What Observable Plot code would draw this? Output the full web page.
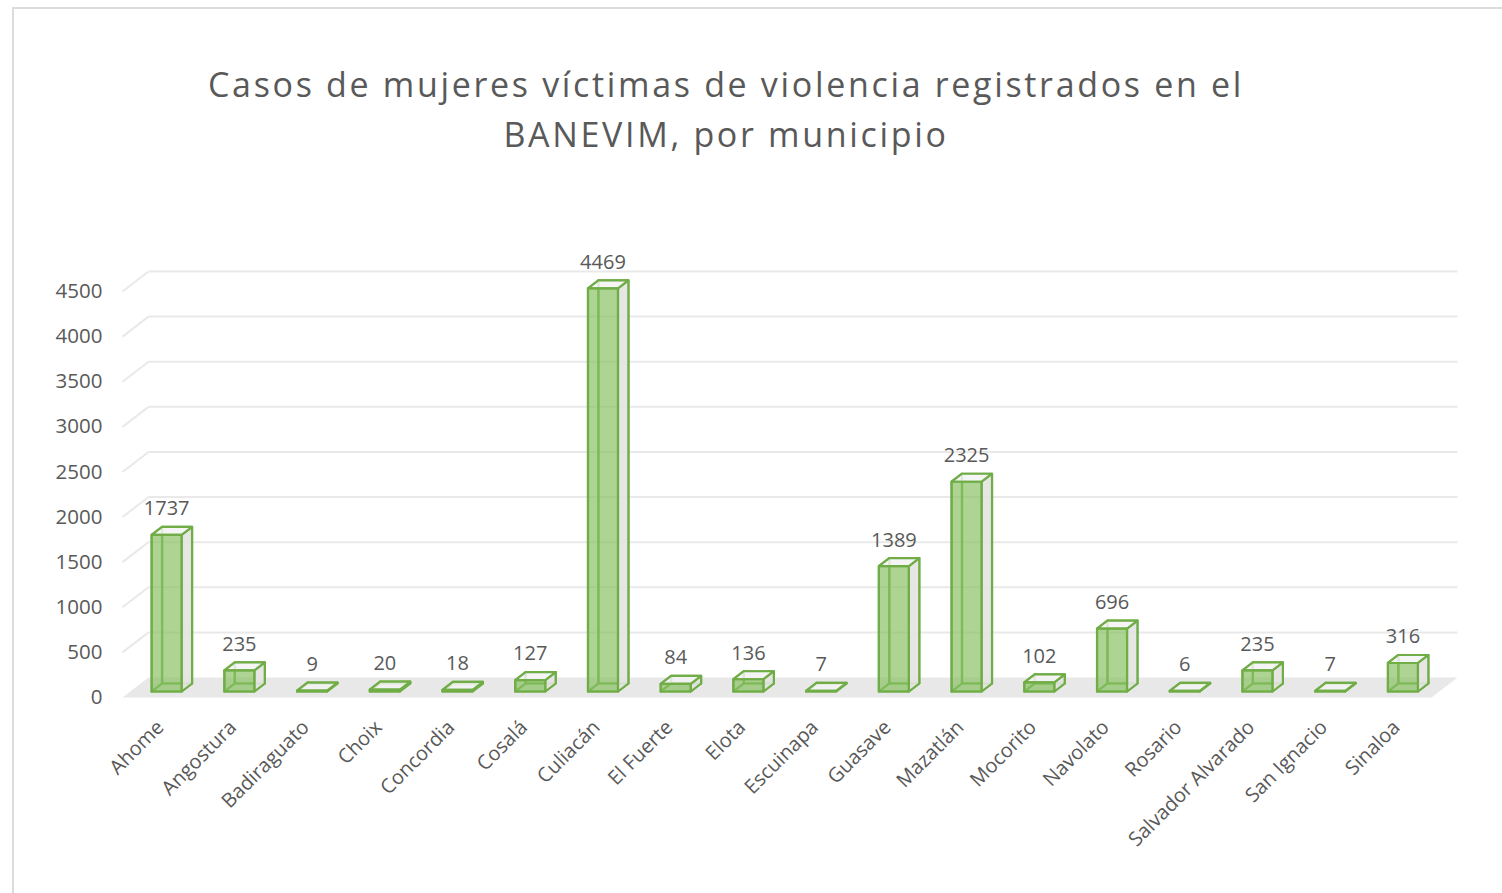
<!DOCTYPE html>
<html>
<head>
<meta charset="utf-8">
<script src="https://cdn.jsdelivr.net/npm/d3@7"></script>
<script src="https://cdn.jsdelivr.net/npm/@observablehq/plot@0.6"></script>
<style>
  html, body { margin: 0; padding: 0; background: #fff; overflow: hidden; }
  #wrap { position: relative; width: 1502px; height: 893px; overflow: hidden; }
  #frame { position: absolute; left: 12px; top: 7px; width: 1600px; height: 1000px; border: 2px solid #dcdcdc; box-sizing: border-box; }
  #chart { position: absolute; left: 0; top: 0; }
  #title { position: absolute; left: 0; top: 59px; width: 1452px; text-align: center; font-family: "Open Sans", sans-serif; font-size: 34px; line-height: 50px; color: #595959; white-space: nowrap; }
  #title span { display: inline-block; }
</style>
</head>
<body>
<div id="wrap">
  <div id="frame"></div>
  <div id="chart"></div>
  <div id="title"><span id="t1">Casos de mujeres víctimas de violencia registrados en el</span><br><span id="t2">BANEVIM, por municipio</span></div>
</div>
<script>
// ---- data ----
const municipios = ["Ahome","Angostura","Badiraguato","Choix","Concordia","Cosalá","Culiacán","El Fuerte","Elota","Escuinapa","Guasave","Mazatlán","Mocorito","Navolato","Rosario","Salvador Alvarado","San Ignacio","Sinaloa"];
const casos = [1737,235,9,20,18,127,4469,84,136,7,1389,2325,102,696,6,235,7,316];
const yTicks = [0,500,1000,1500,2000,2500,3000,3500,4000,4500];

// ---- geometry (pixels) ----
const W = 1502, H = 893;
const xRange = [122, 1431], yRange = [697, 291];
const xDomain = [-0.5, municipios.length - 0.5], yDomain = [0, 4500];
const kx = (xRange[1] - xRange[0]) / (xDomain[1] - xDomain[0]);
const ky = (yRange[0] - yRange[1]) / (yDomain[1] - yDomain[0]);
const SLOPE = 1.3;           // x shift per pixel of depth
const WALL_DEPTH = 20;
const BAR_D0 = 6, BAR_D1 = 14, BAR_HALF = 15;

// point at category position i, value v, lateral pixel shift s, depth d
function pt(i, v, s, d) {
  return {x: i + (s + SLOPE * d) / kx, y: v + d / ky};
}

const bars = municipios.map((m, i) => ({i, m, v: casos[i]}));

// faces of each 3D column
const faces = [];
for (const b of bars) {
  const {i, v} = b;
  const c = (s, vv, d) => pt(i, vv, s, d);
  const FLB = c(-BAR_HALF, 0, BAR_D0), FRB = c(BAR_HALF, 0, BAR_D0);
  const FLT = c(-BAR_HALF, v, BAR_D0), FRT = c(BAR_HALF, v, BAR_D0);
  const BLB = c(-BAR_HALF, 0, BAR_D1), BRB = c(BAR_HALF, 0, BAR_D1);
  const BLT = c(-BAR_HALF, v, BAR_D1), BRT = c(BAR_HALF, v, BAR_D1);
  const add = (face, pts) => pts.forEach(p => faces.push({face, id: face + i, x: p.x, y: p.y}));
  add("back", [BLB, BRB, BRT, BLT]);
  add("left", [FLB, BLB, BLT, FLT]);
  add("bottom", [FLB, FRB, BRB, BLB]);
  add("right", [FRB, BRB, BRT, FRT]);
  add("top", [FLT, FRT, BRT, BLT]);
  add("front", [FLB, FRB, FRT, FLT]);
}

// floor
const floor = [pt(xDomain[0], 0, 0, 0), pt(xDomain[0], 0, 0, WALL_DEPTH), pt(xDomain[1], 0, 0, WALL_DEPTH), pt(xDomain[1], 0, 0, 0)];

// gridlines on the back wall + diagonal on the side wall
const grid = yTicks.filter(t => t > 0).map(t => {
  const a = pt(xDomain[0], t, 0, WALL_DEPTH), b = pt(xDomain[1], t, 0, WALL_DEPTH);
  return {x1: a.x, y1: a.y, x2: b.x, y2: b.y};
});
const diag = yTicks.filter(t => t > 0).map(t => {
  const a = pt(xDomain[0], t, 0, 0), b = pt(xDomain[0], t, 0, WALL_DEPTH);
  return {x1: a.x, y1: a.y, x2: b.x, y2: b.y};
});

const GREEN = "#70ad47";
const faceMark = (face, opts) => Plot.line(faces.filter(d => d.face === face), {
  x: "x", y: "y", z: "id", curve: "linear-closed",
  stroke: GREEN, strokeWidth: 2.2, strokeLinejoin: "round", ...opts
});

const labelX = bars.map(b => ({...b, ...pt(b.i, b.v, 0, BAR_D0)}));

const chart = Plot.plot({
  width: W, height: H,
  margin: 0,
  style: {fontFamily: "'Open Sans', sans-serif", fontSize: "20px", background: "transparent"},
  x: {type: "linear", domain: xDomain, range: xRange, axis: null},
  y: {type: "linear", domain: yDomain, range: yRange, axis: null},
  marks: [
    Plot.line(floor, {x: "x", y: "y", curve: "linear-closed", fill: "#e8e8e8", stroke: "none"}),
    Plot.link(grid, {x1: "x1", y1: "y1", x2: "x2", y2: "y2", stroke: "#e9e9e9", strokeWidth: 2}),
    Plot.link(diag, {x1: "x1", y1: "y1", x2: "x2", y2: "y2", stroke: "#e9e9e9", strokeWidth: 2}),
    faceMark("back", {fill: "none"}),
    faceMark("left", {fill: "none"}),
    faceMark("bottom", {fill: "#dfe8d8", fillOpacity: 0.5}),
    faceMark("right", {fill: "#e3e4e1", fillOpacity: 0.9}),
    faceMark("top", {fill: "#f3f3f3", fillOpacity: 0.85}),
    faceMark("front", {fill: "#86bf60", fillOpacity: 0.68}),
    // value labels
    Plot.text(labelX, {x: "x", y: "y", text: d => String(d.v), dy: -26, fill: "#595959", fontSize: 20}),
    // y tick labels
    Plot.text(yTicks, {x: xDomain[0], y: d => d, text: d => String(d), textAnchor: "end", dx: -20, fill: "#595959", fontSize: 20.5}),
    // category labels
    Plot.text(bars, {x: "i", y: 0, text: "m", rotate: -45, textAnchor: "end", lineAnchor: "top", dx: -4, dy: 21, fill: "#595959", fontSize: 20})
  ]
});
document.getElementById("chart").appendChild(chart);

// fit title letter-spacing to the reference width
const t1 = document.getElementById("t1"), t2 = document.getElementById("t2");
const target = 1036;
const w = t1.getBoundingClientRect().width;
const ls = (target - w) / t1.textContent.length;
t1.style.letterSpacing = ls + "px";
t2.style.letterSpacing = ls + "px";
</script>
</body>
</html>
